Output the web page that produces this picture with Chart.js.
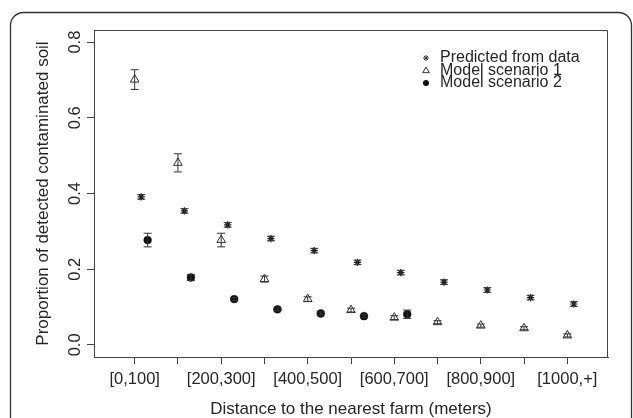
<!DOCTYPE html>
<html>
<head>
<meta charset="utf-8">
<script src="https://cdn.jsdelivr.net/npm/chart.js@4"></script>
<style>
  html, body { margin: 0; padding: 0; background: #fff; }
  #wrap { width: 633px; height: 418px; }
</style>
</head>
<body>
<div id="wrap"><canvas id="soilChart" width="633" height="418"></canvas></div>
<script>
// distance classes (only every other one gets a label on the axis)
var distanceBins = ['[0,100]', '[100,200]', '[200,300]', '[300,400]', '[400,500]', '[500,600]',
                    '[600,700]', '[700,800]', '[800,900]', '[900,1000]', '[1000,+]'];
var seriesNames = ['Predicted from data', 'Model scenario 1', 'Model scenario 2'];

var predictedFromData = [0.391, 0.354, 0.317, 0.281, 0.249, 0.218, 0.191, 0.166, 0.145, 0.125, 0.108];
var predictedErr      = [0.006, 0.006, 0.006, 0.006, 0.006, 0.006, 0.006, 0.006, 0.006, 0.006, 0.006];
var scenario1         = [0.701, 0.481, 0.277, 0.174, 0.121, 0.092, 0.072, 0.060, 0.051, 0.044, 0.025];
var scenario1Err      = [0.026, 0.024, 0.018, 0.008, 0.006, 0.005, 0.005, 0.004, 0.004, 0.004, 0.004];
var scenario2         = [0.277, 0.178, 0.121, 0.094, 0.083, 0.076, 0.081];
var scenario2Err      = [0.018, 0.008, 0.004, 0.004, 0.004, 0.004, 0.011];
var yTickValues = [0, 0.2, 0.4, 0.6, 0.8];

var ink = '#262626';
Chart.defaults.font.family = "'Liberation Sans', Arial, Helvetica, sans-serif";
Chart.defaults.color = ink;

function toPoints(values, shift) {
    return values.map(function (v, i) { return { x: i + 1 + shift, y: v }; });
}

var errsByDataset = [predictedErr, scenario1Err, scenario2Err];

var framePlugin = {
    id: 'frame',
    beforeDraw: function (chart) {
        var ctx = chart.ctx, r = 13, l = 10.5, t = 12.5, rt = 631.5, b = 440;
        ctx.save();
        ctx.fillStyle = '#fff';
        ctx.fillRect(0, 0, chart.width, chart.height);
        ctx.strokeStyle = '#333';
        ctx.lineWidth = 1.3;
        ctx.beginPath();
        ctx.moveTo(l, b);
        ctx.lineTo(l, t + r);
        ctx.arcTo(l, t, l + r, t, r);
        ctx.lineTo(rt - r, t);
        ctx.arcTo(rt, t, rt, t + r, r);
        ctx.lineTo(rt, b);
        ctx.stroke();
        ctx.restore();
    },
    afterDraw: function (chart) {
        // top and right side of the plot box
        var a = chart.chartArea, ctx = chart.ctx;
        ctx.save();
        ctx.strokeStyle = '#444';
        ctx.lineWidth = 1;
        ctx.beginPath();
        ctx.moveTo(Math.round(a.left) + 0.5, Math.round(a.top) + 0.5);
        ctx.lineTo(Math.round(a.right) - 0.5, Math.round(a.top) + 0.5);
        ctx.lineTo(Math.round(a.right) - 0.5, Math.round(a.bottom) + 0.5);
        ctx.stroke();
        ctx.restore();
    }
};

var errorBarPlugin = {
    id: 'errorBars',
    afterDatasetsDraw: function (chart) {
        var ctx = chart.ctx, ys = chart.scales.y;
        ctx.save();
        ctx.strokeStyle = '#333';
        ctx.lineWidth = 1;
        chart.data.datasets.forEach(function (ds, i) {
            var meta = chart.getDatasetMeta(i);
            var errs = errsByDataset[i];
            meta.data.forEach(function (pt, j) {
                var v = ds.data[j].y, e = errs[j];
                var x = pt.x;
                var y1 = ys.getPixelForValue(v + e), y2 = ys.getPixelForValue(v - e);
                ctx.beginPath();
                ctx.moveTo(x, y1); ctx.lineTo(x, y2);
                ctx.moveTo(x - 4, y1); ctx.lineTo(x + 4, y1);
                ctx.moveTo(x - 4, y2); ctx.lineTo(x + 4, y2);
                ctx.stroke();
            });
        });
        ctx.restore();
    }
};

var legendPlugin = {
    id: 'rLegend',
    afterDraw: function (chart) {
        var ctx = chart.ctx;
        var symX = 426, textX = 440, rows = [58, 70.5, 83];
        ctx.save();
        ctx.font = "16px 'Liberation Sans', Arial, sans-serif";
        ctx.fillStyle = ink;
        ctx.textBaseline = 'middle';
        ctx.textAlign = 'left';
        seriesNames.forEach(function (name, i) {
            var y = rows[i];
            ctx.strokeStyle = '#333';
            ctx.lineWidth = 1;
            ctx.beginPath();
            if (i === 0) {
                var r = 3;
                ctx.moveTo(symX - r, y); ctx.lineTo(symX + r, y);
                ctx.moveTo(symX, y - r); ctx.lineTo(symX, y + r);
                ctx.moveTo(symX - r * 0.7, y - r * 0.7); ctx.lineTo(symX + r * 0.7, y + r * 0.7);
                ctx.moveTo(symX - r * 0.7, y + r * 0.7); ctx.lineTo(symX + r * 0.7, y - r * 0.7);
                ctx.stroke();
            } else if (i === 1) {
                ctx.moveTo(symX, y - 3.5);
                ctx.lineTo(symX + 3.3, y + 2.2);
                ctx.lineTo(symX - 3.3, y + 2.2);
                ctx.closePath();
                ctx.stroke();
            } else {
                ctx.fillStyle = '#111';
                ctx.arc(symX, y, 3, 0, Math.PI * 2);
                ctx.fill();
                ctx.fillStyle = ink;
            }
            ctx.fillText(name, textX, y);
        });
        ctx.restore();
    }
};

new Chart(document.getElementById('soilChart'), {
    type: 'scatter',
    data: {
        datasets: [{
            label: seriesNames[0],
            data: toPoints(predictedFromData, 0.15),
            pointStyle: 'star',
            pointRadius: 3.6,
            pointBorderWidth: 1.2,
            pointBorderColor: '#1a1a1a',
            pointBackgroundColor: '#1a1a1a'
        }, {
            label: seriesNames[1],
            data: toPoints(scenario1, 0),
            pointStyle: 'triangle',
            pointRadius: 5,
            pointBorderWidth: 1,
            pointBorderColor: '#333',
            pointBackgroundColor: 'rgba(0,0,0,0)'
        }, {
            label: seriesNames[2],
            data: toPoints(scenario2, 0.3),
            pointStyle: 'circle',
            pointRadius: 3.9,
            pointBorderWidth: 0.5,
            pointBorderColor: '#111',
            pointBackgroundColor: '#111'
        }]
    },
    options: {
        responsive: false,
        animation: false,
        layout: { padding: { top: 30, right: 25, bottom: 0, left: 0 } },
        plugins: { legend: { display: false }, tooltip: { enabled: false } },
        scales: {
            x: {
                type: 'linear',
                min: 0.06,
                max: 11.94,
                afterBuildTicks: function (s) {
                    s.ticks = distanceBins.map(function (b, i) { return { value: i + 1 }; });
                },
                afterFit: function (s) { s.height = 61; },
                border: { display: true, color: '#444', width: 1 },
                grid: { drawOnChartArea: false, drawTicks: true, tickLength: 7, tickColor: '#444' },
                ticks: {
                    autoSkip: false, minRotation: 0, maxRotation: 0, padding: 6,
                    font: { size: 16.5 },
                    callback: function (v) {
                        var idx = Math.round(v) - 1;
                        return idx % 2 === 0 ? distanceBins[idx] : '';
                    }
                },
                title: {
                    display: true,
                    text: 'Distance to the nearest farm (meters)',
                    font: { size: 17, lineHeight: 1 },
                    padding: { top: 0, bottom: 0.5 }
                }
            },
            y: {
                type: 'linear',
                min: -0.032,
                max: 0.832,
                afterBuildTicks: function (s) {
                    s.ticks = yTickValues.map(function (v) { return { value: v }; });
                },
                afterFit: function (s) { s.width = 94; },
                border: { display: true, color: '#444', width: 1 },
                grid: { drawOnChartArea: false, drawTicks: true, tickLength: 7, tickColor: '#444' },
                ticks: {
                    minRotation: 90, maxRotation: 90, crossAlign: 'center', padding: 0,
                    font: { size: 16.5 },
                    callback: function (v) { return v.toFixed(1); }
                },
                title: {
                    display: true,
                    text: 'Proportion of detected contaminated soil',
                    font: { size: 17, lineHeight: 1 },
                    padding: { top: 35, bottom: 0 }
                }
            }
        }
    },
    plugins: [framePlugin, errorBarPlugin, legendPlugin]
});
</script>
</body>
</html>
